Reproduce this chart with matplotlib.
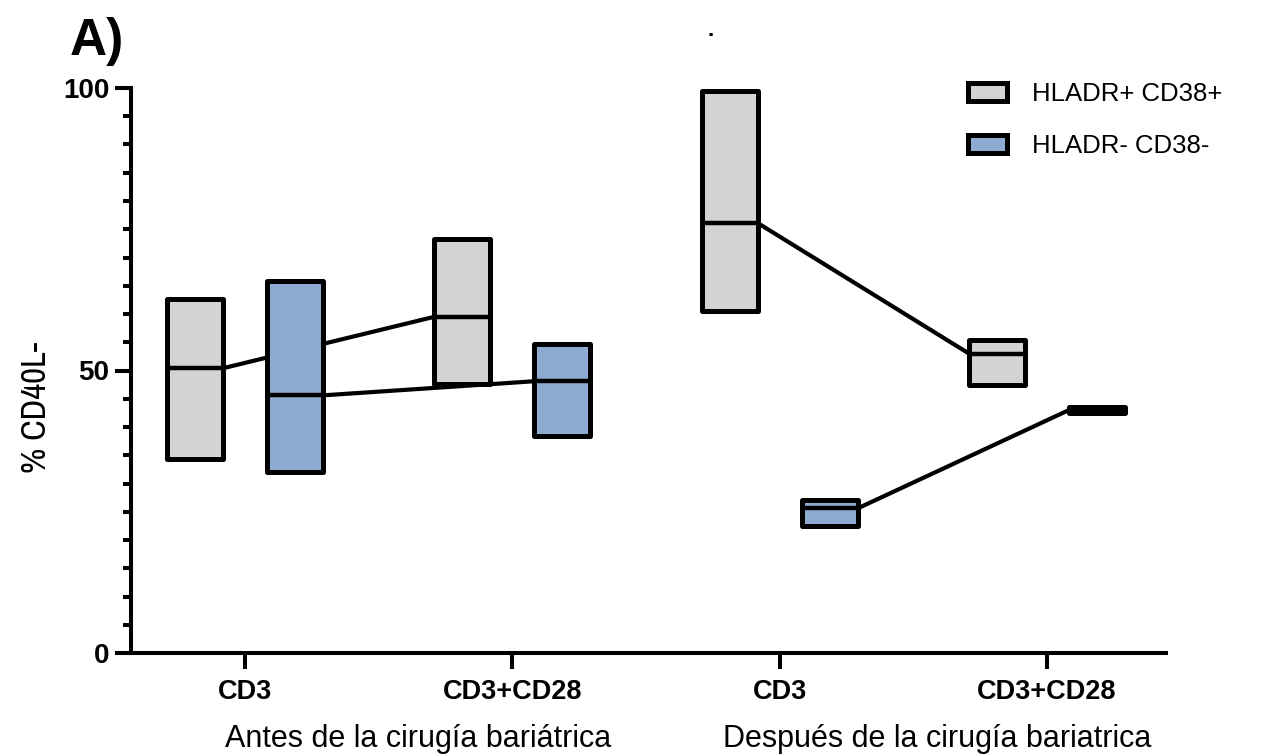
import matplotlib
matplotlib.use("Agg")
import matplotlib.pyplot as plt
from matplotlib.patches import Patch
from matplotlib.ticker import MultipleLocator
import numpy as np

# ---- data ----
tick_labels = ["CD3", "CD3+CD28", "CD3", "CD3+CD28"]
group_labels = ["Antes de la cirugía bariátrica", "Después de la cirugía bariatrica"]
series_names = ["HLADR+ CD38+", "HLADR- CD38-"]

pos_min = [34.4, 47.6, 60.5, 47.4]
pos_max = [62.6, 73.2, 99.4, 55.4]
pos_med = [50.4, 59.5, 76.1, 53.0]

neg_min = [32.1, 38.4, 22.4, 42.4]
neg_max = [65.8, 54.7, 27.1, 43.6]
neg_med = [45.6, 48.1, 25.6, 43.0]

pairs = [(0, 1), (2, 3)]

gray = "#D3D3D3"
blue = "#8DAAD0"

plt.rcParams['font.family'] = ['Liberation Sans', 'DejaVu Sans']
narrow = ['Archivo Narrow', 'Roboto Condensed', 'Liberation Sans']

fig = plt.figure(figsize=(12.66, 7.56), dpi=100)
ax = fig.add_axes([131/1266, 103/756, (1166-131)/1266, (653-88)/756])

x = np.arange(len(tick_labels))
off = 0.187
w = 0.21
elw = 3.6

series = [
    (pos_min, pos_max, pos_med, gray, -off),
    (neg_min, neg_max, neg_med, blue, +off),
]
for mn, mx, md, col, o in series:
    mn = np.array(mn); mx = np.array(mx); md = np.array(md)
    xs = x + o
    ax.bar(xs, mx - mn, bottom=mn, width=w, color=col, edgecolor="black",
           linewidth=elw, zorder=3, joinstyle="round")
    ax.hlines(md, xs - w/2, xs + w/2, color="black", linewidth=3.2, zorder=4)
    for a, b in pairs:
        ax.plot([xs[a] + w/2, xs[b] - w/2], [md[a], md[b]], color="black",
                linewidth=3.0, zorder=2, solid_capstyle="butt")

ax.set_xlim(-0.426, 3.445)
ax.set_ylim(0, 100)
ax.spines['top'].set_visible(False)
ax.spines['right'].set_visible(False)
for s in ['left', 'bottom']:
    ax.spines[s].set_linewidth(2.9)

ax.set_xticks(x)
ax.set_xticklabels(tick_labels, fontsize=19.5, fontweight='bold')
ax.set_yticks([0, 50, 100])
ax.set_yticklabels(["0", "50", "100"], fontsize=20, fontweight='bold')
ax.yaxis.set_minor_locator(MultipleLocator(5))
ax.tick_params(axis='both', which='major', length=11.5, width=2.9)
ax.tick_params(axis='y', which='major', pad=4)
ax.tick_params(axis='y', which='minor', length=5.5, width=2.9)
ax.tick_params(axis='x', which='major', pad=7)

ax.set_ylabel("% CD40L-", fontsize=25, family=narrow)
ax.yaxis.set_label_coords(-0.076, 0.435)

trans = ax.get_xaxis_transform()
ax.text(0.647, -0.152, group_labels[0], transform=trans, ha='center', va='center',
        fontsize=22)
ax.text(2.59, -0.152, group_labels[1], transform=trans, ha='center', va='center',
        fontsize=22)

fig.text(70/1266, 1 - 42/756, "A)", fontsize=37, fontweight='bold', va='center', ha='left')
fig.text(711/1266, 1 - 30/756, ".", fontsize=16, fontweight='bold', va='center', ha='center')

handles = [Patch(facecolor=gray, edgecolor="black", linewidth=elw),
           Patch(facecolor=blue, edgecolor="black", linewidth=elw)]
fig.legend(handles, series_names, loc='upper left',
           bbox_to_anchor=(968/1266, 1 - 82/756), frameon=False, fontsize=18.5,
           handlelength=1.5, handleheight=0.72, handletextpad=1.0,
           labelspacing=1.08, borderaxespad=0, borderpad=0)

fig.savefig("out.png", dpi=100)
